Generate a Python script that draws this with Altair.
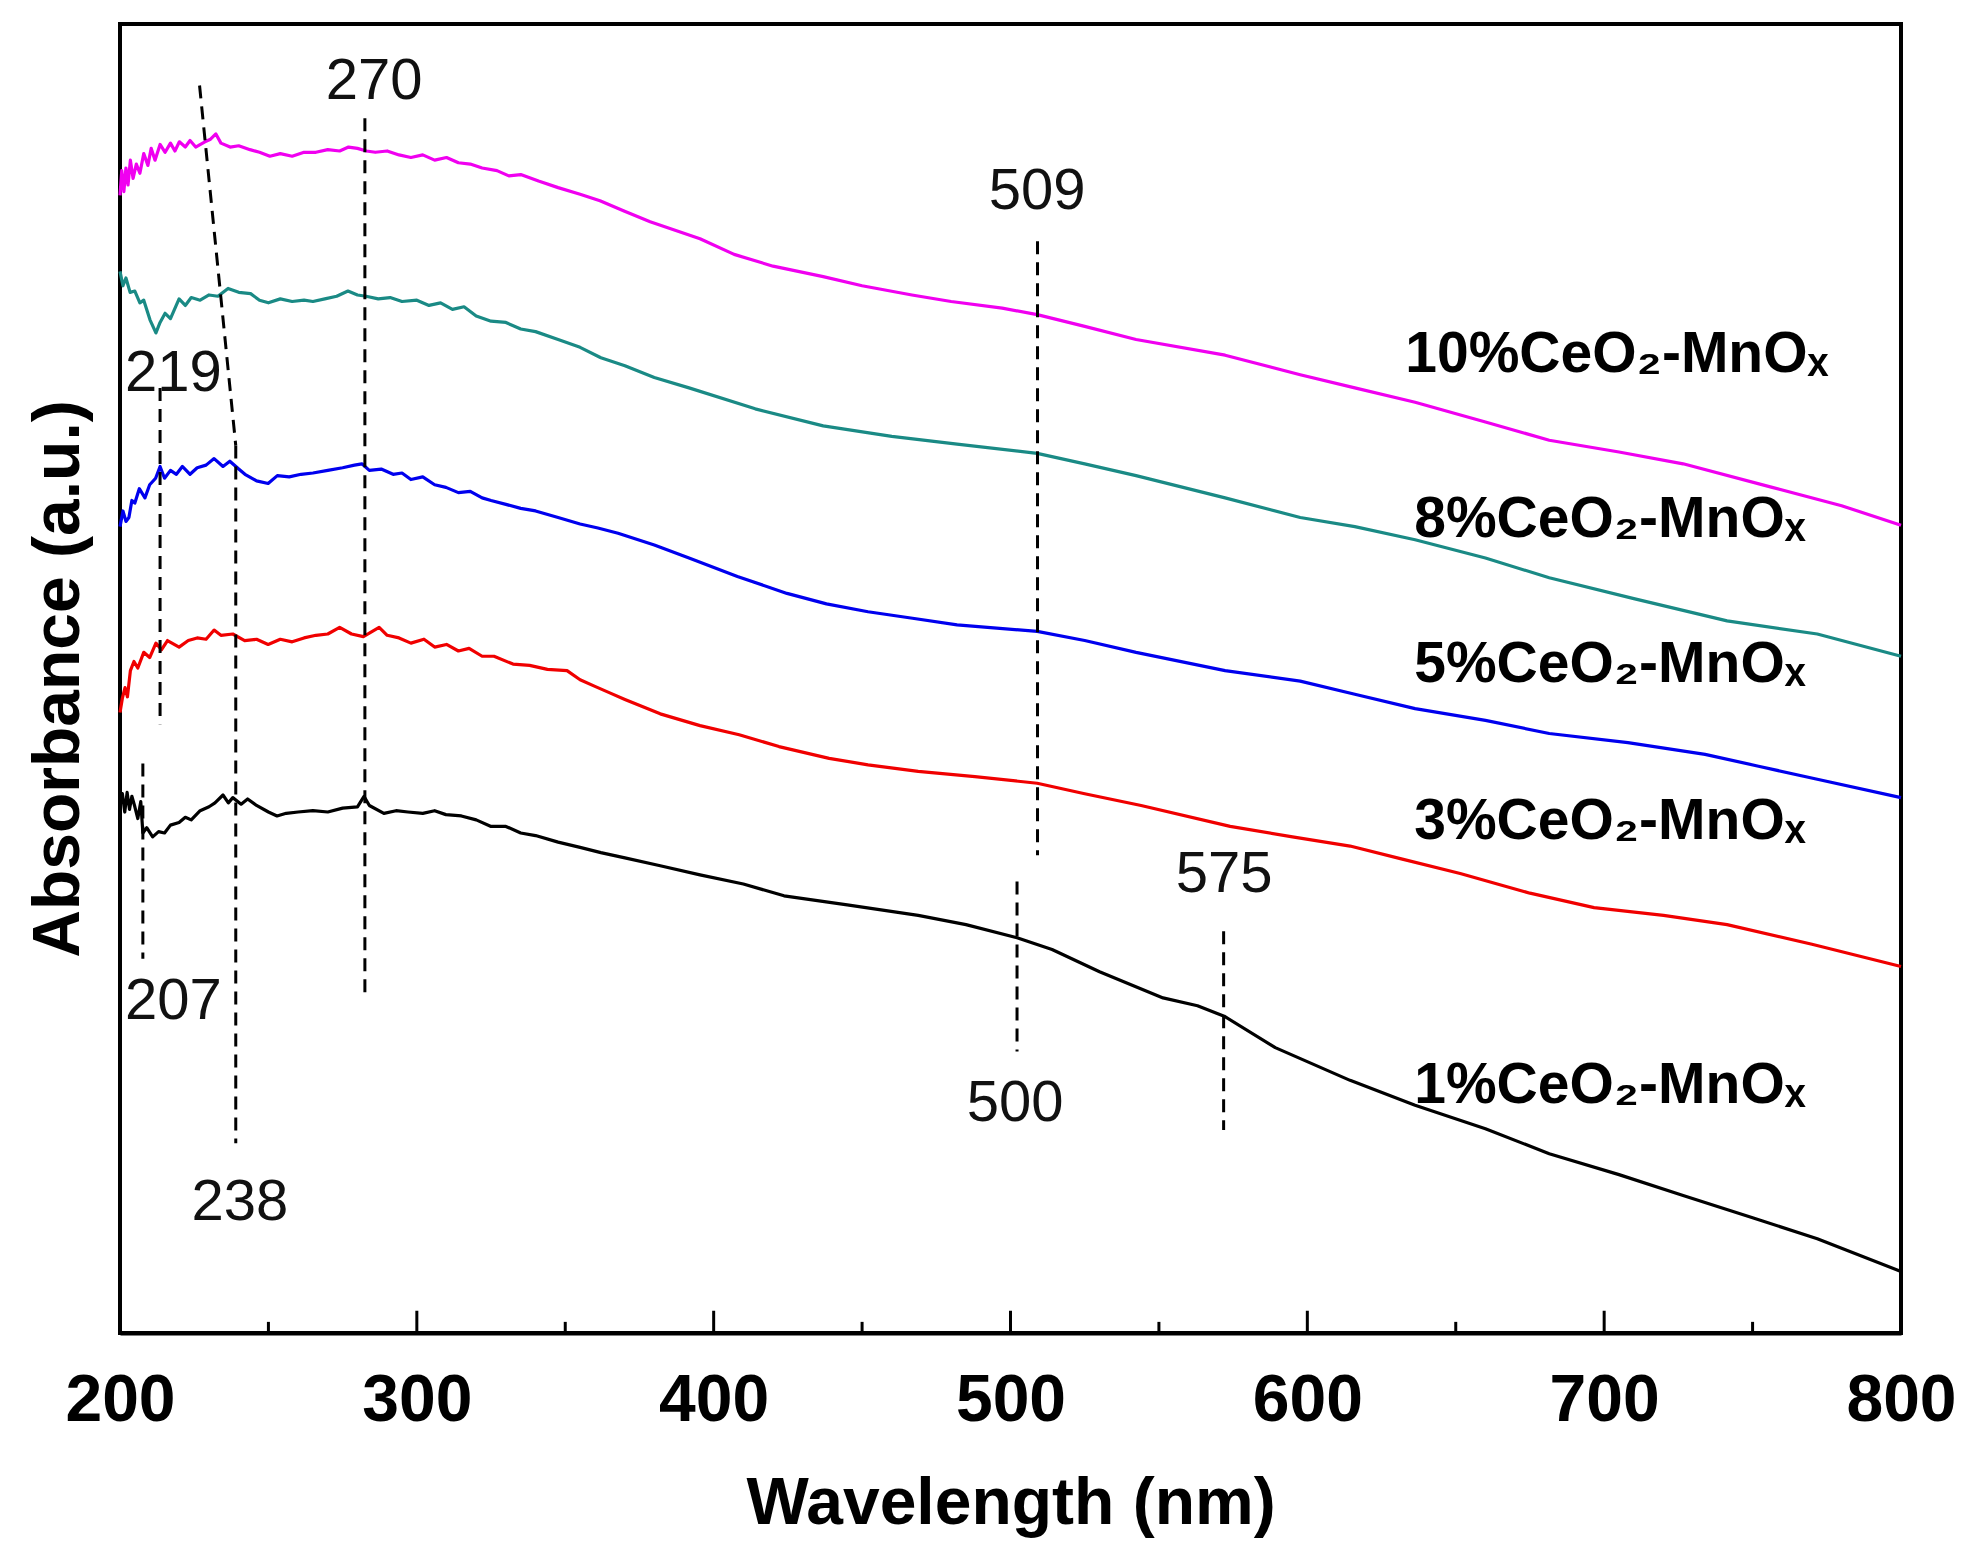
import altair as alt
import pandas as pd

# UV-vis spectra of the CeO2-MnOx samples (curves are offset vertically, a.u.)
names = ["1%CeO₂-MnOₓ", "3%CeO₂-MnOₓ", "5%CeO₂-MnOₓ", "8%CeO₂-MnOₓ", "10%CeO₂-MnOₓ"]
colors = ["#000000", "#F00000", "#0000EE", "#1A8A85", "#F000F0"]

wl_1 = [200, 200.8, 201.6, 202.4, 203.2, 204, 205, 206, 207, 207.7, 209, 211, 213, 215, 217,
        219.9, 222, 224, 227, 230, 232, 234.7, 236.5, 238, 240.8, 243, 246, 250, 252.9, 256,
        260, 265, 270, 275, 280, 282.2, 284, 288.9, 293, 297, 302, 306, 309.8, 315, 320, 325,
        330, 335, 340, 347.6, 355, 362, 370.1, 382, 395.4, 410, 423.7, 445, 468.9, 485, 502.2,
        514, 530, 551.4, 563, 572, 589.2, 614.4, 636.3, 660, 681.5, 705, 726.6, 750, 771.8, 800]
ab_1 = [40.3, 41.2, 39.8, 41.3, 40.0, 41.0, 40.2, 39.3, 40.6, 38.2, 38.6, 37.9, 38.3, 38.2, 38.8,
        39.0, 39.4, 39.2, 39.9, 40.2, 40.5, 41.1, 40.5, 40.9, 40.4, 40.8, 40.3, 39.8, 39.5, 39.7,
        39.8, 39.9, 39.8, 40.1, 40.2, 41.0, 40.3, 39.7, 39.9, 39.8, 39.7, 39.9, 39.6, 39.5, 39.2, 38.7,
        38.7, 38.2, 38.0, 37.5, 37.1, 36.7, 36.3, 35.7, 35.0, 34.3, 33.4, 32.7, 31.9, 31.2, 30.2,
        29.3, 27.6, 25.6, 25.0, 24.2, 21.8, 19.3, 17.4, 15.6, 13.7, 12.1, 10.5, 8.8, 7.2, 4.7]

wl_3 = [200, 200.8, 201.7, 202.5, 203.5, 204.7, 206, 208, 210, 212.1, 214, 216, 219.9, 223, 226,
        229, 231.7, 234, 238, 242, 246, 249.9, 254, 258, 262, 266, 270, 274, 278, 282, 285,
        287.3, 290, 294, 298, 302.4, 306, 310, 314, 317.6, 322, 326, 332.4, 338, 344, 350.6,
        355, 360, 365, 370.1, 382, 395.4, 408.6, 422, 438.9, 452, 468.9, 488, 509, 525, 544,
        574, 595, 614.4, 632, 651.5, 675, 696.6, 720, 741.4, 770, 800]
ab_3 = [47.4, 48.5, 49.3, 48.6, 50.6, 51.3, 50.8, 52.0, 51.6, 52.7, 52.2, 52.9, 52.4, 52.9, 53.1,
        53.0, 53.7, 53.3, 53.4, 52.9, 53.0, 52.6, 53.0, 52.8, 53.1, 53.3, 53.4, 53.9, 53.4, 53.2, 53.6,
        53.9, 53.3, 53.1, 52.7, 53.0, 52.4, 52.6, 52.1, 52.3, 51.7, 51.7, 51.1, 51.0, 50.7, 50.6,
        49.9, 49.4, 48.9, 48.4, 47.3, 46.4, 45.7, 44.8, 43.9, 43.4, 42.9, 42.5, 42.0, 41.2, 40.3,
        38.7, 37.9, 37.2, 36.2, 35.1, 33.6, 32.5, 31.9, 31.2, 29.7, 28.0]

wl_5 = [200, 201, 202, 203, 204, 205, 206.5, 208.4, 210, 212, 213.5, 215, 217, 219, 221, 223.6,
        226, 229, 231.7, 234.7, 237, 240, 242.1, 246, 249.9, 253, 257, 261, 265, 270, 275, 279,
        281.5, 284, 288, 292, 295, 298, 302, 306, 309.8, 314, 318, 322, 325, 330, 335, 340,
        347.6, 355, 361, 367.8, 380, 391.7, 408, 424.7, 438, 452, 467, 482, 509, 525, 542.3,
        572.3, 597.6, 616, 636.3, 660, 681.5, 708, 734, 752, 771.8, 800]
ab_5 = [61.6, 62.8, 62.0, 62.3, 63.6, 63.4, 64.5, 63.8, 64.8, 65.3, 66.2, 65.3, 65.9, 65.6, 66.2, 65.6,
        66.1, 66.3, 66.8, 66.2, 66.6, 66.0, 65.6, 65.1, 64.9, 65.5, 65.4, 65.6, 65.7, 65.9, 66.1, 66.3,
        66.4, 65.9, 66.0, 65.6, 65.7, 65.2, 65.4, 64.8, 64.6, 64.2, 64.3, 63.8, 63.6, 63.3, 63.0, 62.8,
        62.3, 61.8, 61.5, 61.1, 60.2, 59.2, 57.8, 56.5, 55.7, 55.1, 54.6, 54.1, 53.6, 52.9, 52.0,
        50.6, 49.8, 48.8, 47.7, 46.8, 45.8, 45.1, 44.2, 43.3, 42.3, 40.9]

wl_8 = [200, 201, 202, 203.4, 205, 206.7, 208, 210.1, 212.1, 213.5, 215.2, 217, 219.9, 222, 224,
        227, 230, 233, 236.4, 240, 244, 247, 250, 254, 258, 262, 265, 269, 273, 276.8, 280, 282.9,
        287, 291, 295, 300, 304.1, 308, 312, 315.9, 320, 325, 330, 335, 340, 347.6, 355, 362,
        370.1, 380, 391.7, 414, 436.9, 460, 482, 509, 525, 542.3, 572.3, 597.6, 616, 636.3, 660,
        681.5, 710, 741.4, 771.8, 800]
ab_8 = [81.1, 80.0, 80.6, 79.5, 79.6, 78.7, 78.9, 77.4, 76.4, 77.2, 77.9, 77.5, 79.0, 78.5, 79.1,
        78.9, 79.3, 79.2, 79.8, 79.5, 79.4, 78.9, 78.7, 79.0, 78.8, 78.9, 78.8, 79.0, 79.2, 79.6, 79.3, 79.2,
        79.0, 79.1, 78.8, 78.9, 78.5, 78.7, 78.2, 78.4, 77.7, 77.3, 77.2, 76.7, 76.5, 75.9, 75.3, 74.5,
        73.9, 73.0, 72.2, 70.6, 69.3, 68.5, 67.9, 67.2, 66.4, 65.5, 63.8, 62.3, 61.6, 60.6, 59.2,
        57.7, 56.1, 54.4, 53.4, 51.7]

wl_10 = [200, 200.6, 201.3, 202, 202.7, 203.5, 204.4, 205.5, 206.7, 208, 209.4, 210.5, 211.8, 213.5,
         215.2, 217, 218.5, 220, 222, 223.6, 225.5, 228.6, 230.5, 232.3, 234, 237.1, 240, 243.8, 247,
         250.5, 254, 258, 262, 266, 270, 274, 277, 280, 283, 286, 290, 294, 298, 302, 306, 310,
         314, 318, 322, 327, 331, 335, 341, 347.6, 355, 361.7, 370, 378.6, 395.4, 406.9, 420,
         436.9, 450, 466.8, 480, 497.2, 509, 525, 542.3, 572.3, 597.6, 616, 636.3, 660, 681.5,
         705, 726.6, 756.6, 780, 800]
ab_10 = [86.9, 88.8, 87.2, 89.0, 87.7, 89.6, 88.2, 89.3, 88.6, 90.1, 89.2, 90.5, 89.6, 90.8,
         90.2, 90.9, 90.3, 91.0, 90.6, 91.1, 90.6, 91.0, 91.2, 91.6, 90.9, 90.6, 90.7, 90.4, 90.2,
         89.9, 90.1, 89.9, 90.2, 90.2, 90.4, 90.3, 90.6, 90.5, 90.3, 90.2, 90.3, 90.0, 89.8, 90.0, 89.6, 89.8,
         89.4, 89.3, 89.0, 88.8, 88.4, 88.5, 88.0, 87.5, 87.0, 86.5, 85.7, 84.9, 83.6, 82.4, 81.5,
         80.7, 80.0, 79.3, 78.8, 78.3, 77.8, 76.9, 75.9, 74.7, 73.2, 72.2, 71.1, 69.6, 68.2,
         67.3, 66.4, 64.6, 63.2, 61.7]

# series labels on the right
lab_x = [636, 636, 636, 636, 633]
lab_y = [18.9, 39.0, 51.0, 62.1, 74.7]

# peak markers: dashed guide segments and their numbers
seg_x = [226.8, 239.0, 282.5, 213.5, 207.7, 509.1, 502.2, 571.8]
seg_y = [95.3, 67.8, 92.8, 72.2, 43.5, 83.4, 34.5, 30.7]
seg_x2 = [239.0, 239.0, 282.5, 213.5, 207.7, 509.1, 502.2, 571.8]
seg_y2 = [67.8, 14.5, 25.7, 46.5, 28.6, 36.5, 21.5, 15.5]

peak_txt = ["270", "219", "207", "238", "509", "500", "575"]
peak_x = [285.6, 218, 218, 240.4, 509, 501.6, 572]
peak_y = [95.6, 73.3, 25.3, 9.9, 87.2, 17.5, 35.0]

# inward x ticks (length in a.u.)
tick_x = [250, 300, 350, 400, 450, 500, 550, 600, 650, 700, 750]
tick_len = [0.85, 1.7, 0.85, 1.7, 0.85, 1.7, 0.85, 1.7, 0.85, 1.7, 0.85]

rows = []
for n, wl, ab in zip(names, [wl_1, wl_3, wl_5, wl_8, wl_10], [ab_1, ab_3, ab_5, ab_8, ab_10]):
    for i, (w, a) in enumerate(zip(wl, ab)):
        rows.append({"sample": n, "wl": w, "abs": a, "i": i})
spec = pd.DataFrame(rows)

FONT = "Liberation Sans"
xs = alt.Scale(domain=[200, 800], nice=False, zero=False)
ys = alt.Scale(domain=[0, 100], nice=False, zero=False)

lines = alt.Chart(spec).mark_line(strokeWidth=3.2, strokeJoin="round").encode(
    x=alt.X("wl:Q", scale=xs,
            axis=alt.Axis(title="Wavelength (nm)", values=[200, 300, 400, 500, 600, 700, 800],
                          format="d", grid=False, ticks=False, domainColor="black",
                          domainWidth=4, labelFont=FONT, labelFontSize=66,
                          labelFontWeight="bold", labelColor="black", labelPadding=35,
                          labelFlush=False, titleFont=FONT, titleFontSize=66,
                          titleFontWeight="bold", titleColor="black", titlePadding=38)),
    y=alt.Y("abs:Q", scale=ys,
            axis=alt.Axis(title="Absorbance (a.u.)", labels=False, ticks=False, grid=False,
                          domain=False, titleFont=FONT, titleFontSize=66,
                          titleFontWeight="bold", titleColor="black", titlePadding=28)),
    color=alt.Color("sample:N", scale=alt.Scale(domain=names, range=colors), legend=None),
    order="i:Q",
)

seg_df = pd.DataFrame({"x": seg_x, "y": seg_y, "x2": seg_x2, "y2": seg_y2})
guides = alt.Chart(seg_df).mark_rule(color="black", strokeWidth=3, strokeDash=[13, 8]).encode(
    x=alt.X("x:Q", scale=xs), y=alt.Y("y:Q", scale=ys), x2="x2:Q", y2="y2:Q"
)

peak_df = pd.DataFrame({"t": peak_txt, "x": peak_x, "y": peak_y})
peaks = alt.Chart(peak_df).mark_text(font=FONT, fontSize=58, color="#111111",
                                     align="center", baseline="middle").encode(
    x=alt.X("x:Q", scale=xs), y=alt.Y("y:Q", scale=ys), text="t:N"
)

lab_df = pd.DataFrame({"t": names, "x": lab_x, "y": lab_y})
labels = alt.Chart(lab_df).mark_text(font=FONT, fontSize=57, fontWeight="bold", color="black",
                                     align="left", baseline="middle").encode(
    x=alt.X("x:Q", scale=xs), y=alt.Y("y:Q", scale=ys), text="t:N"
)

tick_df = pd.DataFrame({"x": tick_x, "len": tick_len, "zero": [0] * len(tick_x)})
ticks = alt.Chart(tick_df).mark_rule(color="black", strokeWidth=3).encode(
    x=alt.X("x:Q", scale=xs), y=alt.Y("zero:Q", scale=ys), y2="len:Q"
)

chart = alt.layer(lines, guides, ticks, peaks, labels).properties(
    width=1781, height=1309,
    autosize=alt.AutoSizeParams(type="none"),
    padding={"left": 112, "top": 16, "right": 72, "bottom": 223},
).configure_view(stroke="black", strokeWidth=4)

chart.save("out.html", embed_options={"renderer": "svg", "actions": False})
